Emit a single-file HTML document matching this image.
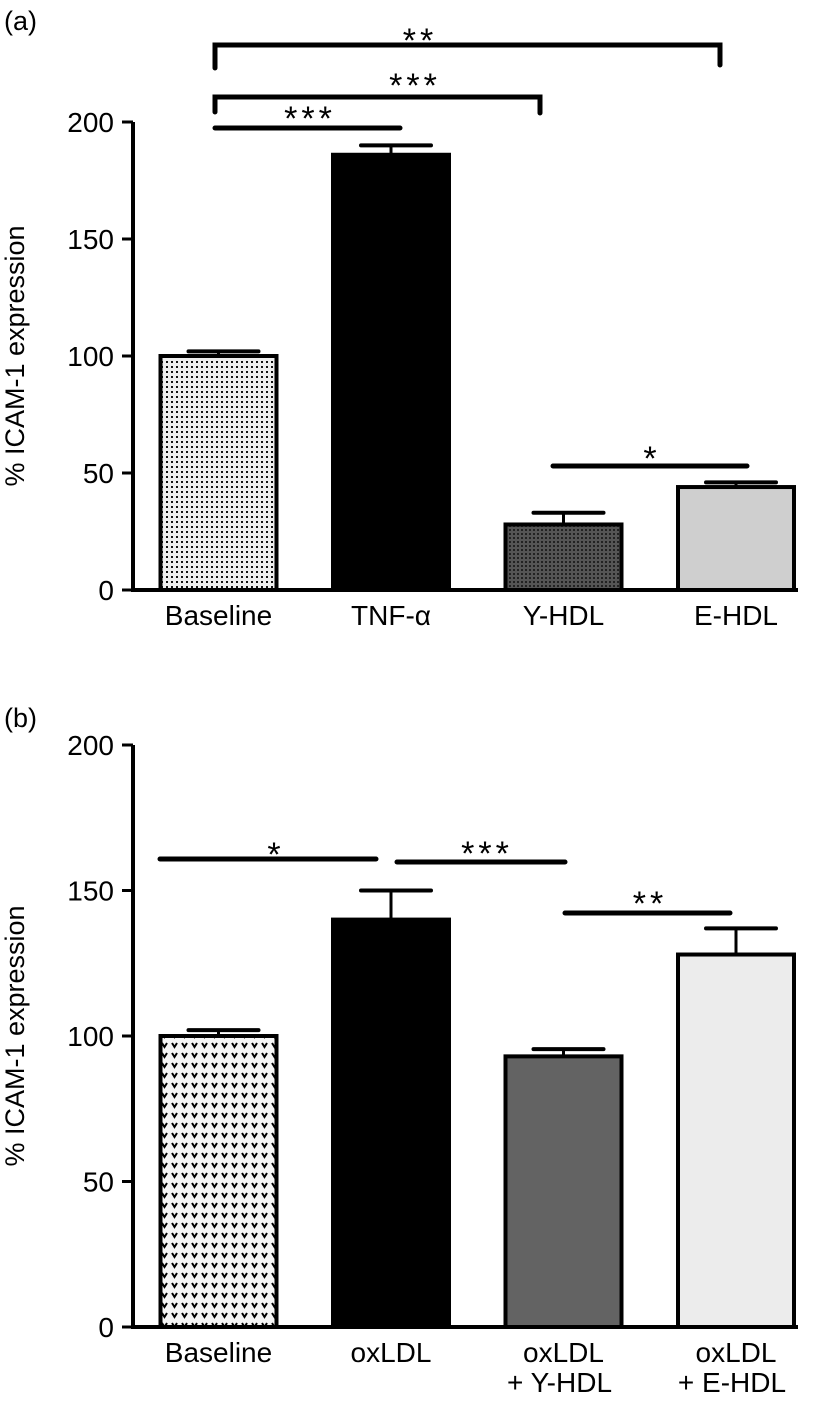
<!DOCTYPE html>
<html><head><meta charset="utf-8"><style>
html,body{margin:0;padding:0;background:#fff;}
svg{display:block;font-family:"Liberation Sans",Arial,sans-serif;}
</style></head><body>
<svg id="fig" width="822" height="1410" viewBox="0 0 822 1410">
<defs>
<pattern id="dots" width="5" height="5" patternUnits="userSpaceOnUse"><rect width="5" height="5" fill="#eeeeee"/><rect x="1" y="1" width="2" height="2" fill="#111"/></pattern>
<pattern id="darkdots" width="4" height="4" patternUnits="userSpaceOnUse"><rect width="4" height="4" fill="#555"/><rect x="1" y="1" width="2" height="2" fill="#222"/></pattern>
<pattern id="vees" width="10" height="10" patternUnits="userSpaceOnUse"><rect width="10" height="10" fill="#f6f6f6"/><path d="M2 3 L4.5 7 L7 3" stroke="#000" stroke-width="2" fill="none"/></pattern>
</defs>
<text x="4" y="30" font-size="27">(a)</text>
<text x="4" y="727" font-size="27">(b)</text>
<g id="chartA"></g>
<g id="chartB"></g>
</svg>
<script>
const catsA = ["Baseline","TNF-\u03b1","Y-HDL","E-HDL"];
const valsA = [100,186,28,44];
const errA = [2,4,5,2];
const catsB = [["Baseline"],["oxLDL"],["oxLDL","+ Y-HDL"],["oxLDL","+ E-HDL"]];
const valsB = [100,140,93,128];
const errB = [2,10,2.5,9];
const ticks = [0,50,100,150,200];
const NS="http://www.w3.org/2000/svg";
function mk(p,t,a){const e=document.createElementNS(NS,t);for(const k in a)e.setAttribute(k,a[k]);p.appendChild(e);return e;}
function draw(g,cats,vals,errs,fills,y0,y200,prefix){
  const ax=133, yS=v=>y0-(y0-y200)*v/200, xC=i=>218.5+i*172.5, bw=116;
  const yt=mk(g,'text',{x:24,y:(y0+y200)/2,'font-size':27,'text-anchor':'middle',transform:`rotate(-90 24 ${(y0+y200)/2})`});
  yt.textContent='% ICAM-1 expression';
  
  
  ticks.forEach(t=>{
    const l=mk(g,'line',{x1:ax-11,x2:ax,y1:yS(t),y2:yS(t),stroke:'#000','stroke-width':3});
    
    
    const tx=mk(g,'text',{x:ax-19,y:yS(t)+10,'font-size':28,'text-anchor':'end'});
    tx.textContent=t;
    
    
  });
  vals.forEach((v,i)=>{
    const x=xC(i)-bw/2;
    const e=mk(g,'line',{x1:xC(i),x2:xC(i),y1:yS(v),y2:yS(v+errs[i]),stroke:'#000','stroke-width':3});
    
    
    const c=mk(g,'line',{x1:xC(i)-30,x2:xC(i)+40,y1:yS(v+errs[i]),y2:yS(v+errs[i]),stroke:'#000','stroke-width':4,'stroke-linecap':'round'});
    
    
    const r=mk(g,'rect',{x:x,y:yS(v),width:bw,height:y0-yS(v),fill:fills[i],stroke:'#000','stroke-width':4});
    
    
    const lines=Array.isArray(cats[i])?cats[i]:[cats[i]];
    lines.forEach((s,j)=>{
      const t=mk(g,'text',{x:xC(i)+(j?-4:0),y:y0+35+j*30,'font-size':28,'text-anchor':'middle'});
      t.textContent=s;
      
      
    });
  });
  const axl=mk(g,'path',{d:`M${ax} ${y200} V${y0} H${xC(3)+bw/2+4}`,stroke:'#000','stroke-width':4,fill:'none'});
  
  
  return {yS,xC};
}
function sig(g,d,label,tx,ty,name){
  const p=mk(g,'path',{d:d,stroke:'#000','stroke-width':5,fill:'none','stroke-linecap':'round'});
  
  
  const t=mk(g,'text',{x:tx,y:ty,'font-size':34,'text-anchor':'middle','letter-spacing':'4'});
  t.textContent=label;
  
  
}
const gA=document.getElementById('chartA'), gB=document.getElementById('chartB');
draw(gA,catsA,valsA,errA,['url(#dots)','#000','url(#darkdots)','#cfcfcf'],590,122,'a');
draw(gB,catsB,valsB,errB,['url(#vees)','#000','#636363','#ececec'],1327,745,'b');
sig(gA,'M215 68 V45 H720 V65','**',420,52,'a-sig-baseline-ehdl');
sig(gA,'M215 112 V97 H540 V113','***',415,97,'a-sig-baseline-yhdl');
sig(gA,'M215 128 H400','***',310,130,'a-sig-baseline-tnf');
sig(gA,'M553 466 H747','*',652,470,'a-sig-yhdl-ehdl');
sig(gB,'M160 859 H376','*',276,866,'b-sig-baseline-oxldl');
sig(gB,'M397 862 H565','***',487,865,'b-sig-oxldl-yhdl');
sig(gB,'M565 913 H730','**',650,915,'b-sig-yhdl-ehdl');
</script>
</body></html>
